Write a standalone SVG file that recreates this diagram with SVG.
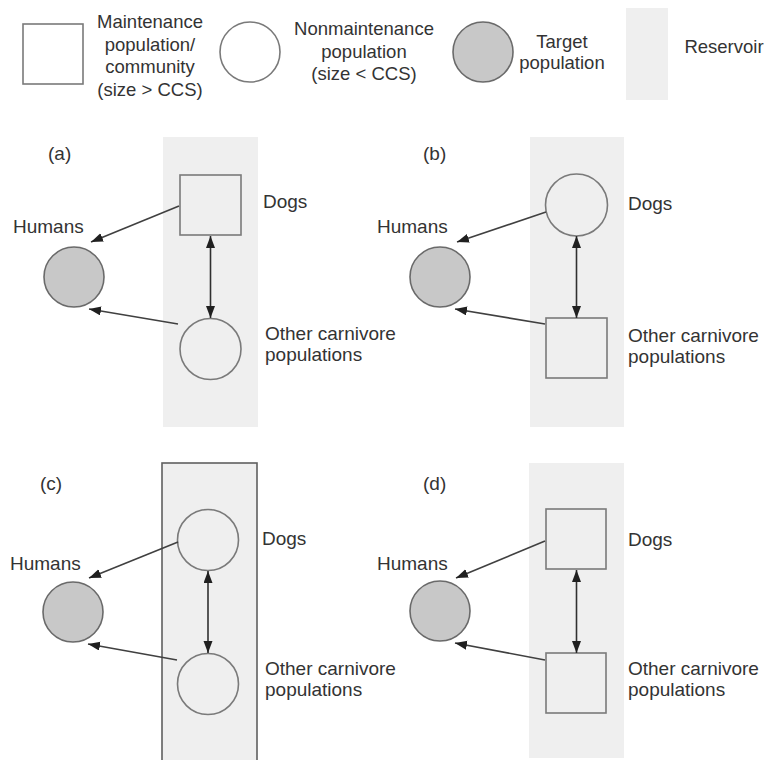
<svg xmlns="http://www.w3.org/2000/svg" width="765" height="760" viewBox="0 0 765 760">
<style>
text{font-family:"Liberation Sans",Arial,sans-serif;fill:#333}
.lg{font-size:18.5px;text-anchor:middle}
.t{font-size:19px}
.band{fill:#efefef;stroke:none}
.shape{fill:none;stroke:#7a7a7a;stroke-width:1.6}
.wshape{fill:#fff;stroke:#7a7a7a;stroke-width:1.6}
.target{fill:#c8c8c8;stroke:#6a6a6a;stroke-width:1.6}
.arr{stroke:#404040;stroke-width:1.6;fill:none;marker-end:url(#ah)}
.dbl{stroke:#303030;stroke-width:1.6;fill:none;marker-end:url(#ah);marker-start:url(#ah)}
</style>
<defs>
<marker id="ah" markerUnits="userSpaceOnUse" markerWidth="13" markerHeight="10" refX="12" refY="4.5" orient="auto-start-reverse">
<path d="M0,0 L12,4.5 L0,9 z" fill="#202020"/>
</marker>
</defs>
<rect width="765" height="760" fill="#fff"/>

<g id="legend">
<rect x="23" y="24" width="60" height="60" class="wshape"/>
<text class="lg" x="150" y="28">Maintenance</text>
<text class="lg" x="150" y="50.5">population/</text>
<text class="lg" x="150" y="73">community</text>
<text class="lg" x="150" y="95.5">(size &gt; CCS)</text>
<circle cx="250" cy="52" r="30" class="wshape"/>
<text class="lg" x="364" y="35">Nonmaintenance</text>
<text class="lg" x="364" y="57.5">population</text>
<text class="lg" x="364" y="80">(size &lt; CCS)</text>
<circle cx="483" cy="52" r="30" class="target"/>
<text class="lg" x="562" y="48">Target</text>
<text class="lg" x="562" y="69">population</text>
<rect x="626" y="8" width="42" height="92" class="band"/>
<text class="lg" x="724" y="53">Reservoir</text>
</g>

<g id="panel-a">
<text class="t" x="48" y="160">(a)</text>
<rect class="band" x="163" y="137" width="95" height="290"/>
<g id="a-dogs"><rect class="shape" x="180" y="175" width="61" height="60"/><text class="t" x="263" y="208">Dogs</text></g>
<g id="a-other"><circle class="shape" cx="210.5" cy="349" r="30.5"/><text class="t" x="265" y="340">Other carnivore</text><text class="t" x="265" y="361">populations</text></g>
<g id="a-humans"><circle class="target" cx="74" cy="277" r="30"/><text class="t" x="13" y="233">Humans</text></g>
</g>

<g id="panel-b">
<text class="t" x="423" y="160">(b)</text>
<rect class="band" x="530" y="137" width="94" height="290"/>
<g id="b-dogs"><circle class="shape" cx="576.5" cy="205" r="31"/><text class="t" x="628" y="210">Dogs</text></g>
<g id="b-other"><rect class="shape" x="546" y="318" width="61" height="60"/><text class="t" x="628" y="342">Other carnivore</text><text class="t" x="628" y="363">populations</text></g>
<g id="b-humans"><circle class="target" cx="440" cy="277" r="30"/><text class="t" x="377" y="233">Humans</text></g>
</g>

<g id="panel-c">
<text class="t" x="40" y="490">(c)</text>
<rect x="162" y="463" width="95" height="310" fill="#efefef" stroke="#606060" stroke-width="1.6"/>
<g id="c-dogs"><circle class="shape" cx="208" cy="540" r="30.5"/><text class="t" x="262" y="545">Dogs</text></g>
<g id="c-other"><circle class="shape" cx="208" cy="684" r="30.5"/><text class="t" x="265" y="675">Other carnivore</text><text class="t" x="265" y="696">populations</text></g>
<g id="c-humans"><circle class="target" cx="73" cy="612" r="30"/><text class="t" x="10" y="570">Humans</text></g>
</g>

<g id="panel-d">
<text class="t" x="423" y="490">(d)</text>
<rect class="band" x="529" y="463" width="95" height="295"/>
<g id="d-dogs"><rect class="shape" x="546" y="509" width="60" height="60"/><text class="t" x="628" y="546">Dogs</text></g>
<g id="d-other"><rect class="shape" x="546" y="653" width="60" height="60"/><text class="t" x="628" y="675">Other carnivore</text><text class="t" x="628" y="696">populations</text></g>
<g id="d-humans"><circle class="target" cx="440" cy="611" r="30"/><text class="t" x="377" y="570">Humans</text></g>
</g>

<g id="connectors">
<line class="arr" x1="179" y1="206" x2="91" y2="242"/>
<line class="arr" x1="178" y1="324" x2="89" y2="309"/>
<line class="dbl" x1="210.5" y1="236" x2="210.5" y2="318"/>

<line class="arr" x1="546" y1="212" x2="457" y2="242"/>
<line class="arr" x1="545" y1="324" x2="455" y2="309"/>
<line class="dbl" x1="576.5" y1="236" x2="576.5" y2="318"/>

<line class="arr" x1="178" y1="542" x2="89" y2="578"/>
<line class="arr" x1="177" y1="660" x2="88" y2="644"/>
<line class="dbl" x1="208" y1="571" x2="208" y2="653"/>

<line class="arr" x1="545" y1="541" x2="456" y2="578"/>
<line class="arr" x1="545" y1="660" x2="455" y2="643"/>
<line class="dbl" x1="576.5" y1="570" x2="576.5" y2="653"/>
</g>
</svg>
